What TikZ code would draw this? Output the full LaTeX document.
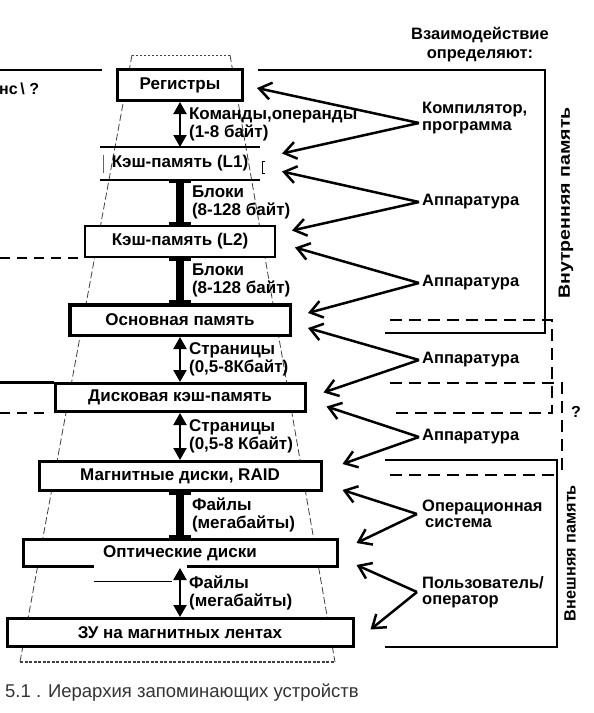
\documentclass[tikz,border=0pt]{standalone}
\usepackage{fontspec}
\setmainfont{Liberation Sans}
\usetikzlibrary{positioning,calc,arrows.meta}
\tikzset{
	box/.style={draw, fill=white, line width=3pt, inner sep=0pt, font=\bfseries\fontsize{17}{19}\selectfont},
	lnk/.style={anchor=west, inner sep=0pt, xshift=8pt, align=left, font=\bfseries\fontsize{17}{18}\selectfont},
	side/.style={anchor=west, inner sep=0pt, align=left, font=\bfseries\fontsize{16.5}{17}\selectfont},
	dbl/.style={line width=2.2pt, {Triangle[length=12pt,width=13pt]}-{Triangle[length=12pt,width=13pt]}},
	ibeam/.style={line width=8pt, {Bar[width=22pt,line width=3pt]}-{Bar[width=22pt,line width=3pt]}},
	ctl/.style={line width=2.5pt, -{Straight Barb[length=12pt,width=17pt]}},
	cone/.style={line width=0.8pt, black!75, dash pattern=on 7pt off 3pt},
	bracket/.style={line width=2.5pt},
	dbracket/.style={line width=2.5pt, dash pattern=on 12pt off 7pt},
	vlabel/.style={rotate=90, font=\bfseries\fontsize{16.3}{18}\selectfont}
}

\begin{document}
\begin{tikzpicture}[x=1pt, y=-1pt, node distance=45pt]
	\useasboundingbox (0,0) rectangle (594,713);
	% cone behind the levels
	\draw[cone] (132,55) -- (20,662);
	\draw[cone] (230,55) -- (335,662);
	\draw[cone, dash pattern=on 2pt off 2pt] (132,55) -- (230,55);
	\draw[cone, line width=1.2pt, dash pattern=on 3pt off 1.5pt] (20,662) -- (335,662);
	% levels
	\node[box, minimum width=125pt, minimum height=31pt] (reg) at (180,85) {Регистры};
	\node[box, draw=none, fill=none, outer sep=0pt, minimum width=160pt, minimum height=33pt, below=of reg] (l1) {Кэш-память (L1)};
	\node[box, line width=2pt, minimum width=190pt, minimum height=31pt, below=of l1] (l2) {Кэш-память (L2)};
	\node[box, line width=3.5pt, minimum width=220.5pt, minimum height=30.5pt, below=of l2] (main) {Основная память};
	\node[box, minimum width=250pt, minimum height=28pt, below=of main] (dcache) {Дисковая кэш-память};
	\node[box, minimum width=282pt, minimum height=29pt, below=47pt of dcache] (mdisk) {Магнитные диски, RAID};
	\node[box, minimum width=314pt, minimum height=27pt, below=46pt of mdisk] (opt) {Оптические диски};
	\node[box, minimum width=346pt, minimum height=28pt, below=49pt of opt] (tape) {ЗУ на магнитных лентах};
	% L1 is only ruled above and below
	\draw[line width=2.8pt] (l1.north west) -- (l1.north east);
	\draw[line width=2.8pt] (l1.south west) -- (l1.south east);
	\draw[line width=0.6pt, black!60] ($(l1.west)+(3,-9)$) -- ($(l1.west)+(3,9)$);
	\draw[line width=0.6pt] ($(l1.east)+(5,-2)$) -| ($(l1.east)+(2,10)$) -- ++(3,0);
	\draw[white, line width=3pt] ($(opt.south west)+(72,-1.5)$) -- ($(opt.south west)+(165,-1.5)$);
	\draw[line width=0.6pt] ($(opt.south west)+(72,13)$) -- ++(78,0);
	% transfers between levels
	\draw[dbl] (reg) -- (l1) node[midway, lnk] {Команды,операнды\\(1-8 байт)};
	\draw[ibeam] (l1) -- (l2) node[midway, lnk] {Блоки\\(8-128 байт)};
	\draw[ibeam] (l2) -- (main) node[midway, lnk] {Блоки\\(8-128 байт)};
	\draw[dbl] (main) -- (dcache) node[midway, lnk] {Страницы\\(0,5-8Кбайт)};
	\draw[dbl] (dcache) -- (mdisk) node[midway, lnk] {Страницы\\(0,5-8 Кбайт)};
	\draw[ibeam] (mdisk) -- (opt) node[midway, lnk] {Файлы\\(мегабайты)};
	\draw[dbl] (opt) -- (tape) node[midway, lnk] {Файлы\\(мегабайты)};
	% left margin
	\draw[line width=2.5pt] (0,70) -- (102,70);
	\draw[line width=2.5pt, dash pattern=on 10pt off 7pt] (0,258) -- (80,258);
	\draw[line width=3pt] (dcache.north west) -- ++(-60,0);
	\draw[line width=2.5pt, dash pattern=on 10pt off 7pt] (0,413) -- (50,413);
	\node[anchor=west, inner sep=0pt, font=\bfseries\fontsize{16}{18}\selectfont] (cut) at (-1,89) {нс\,\textbackslash\ ?};
	% who controls the transfers
	\node[align=center, font=\bfseries\fontsize{16.5}{19}\selectfont] (title) at (480,45) {Взаимодействие\\определяют:};
	\node[side] (comp) at (422,118) {Компилятор,\\программа};
	\node[side] (hw1) at (422,202) {Аппаратура};
	\node[side] (hw2) at (422,283) {Аппаратура};
	\node[side] (hw3) at (422,360) {Аппаратура};
	\node[side] (hw4) at (422,437) {Аппаратура};
	\node[side, font=\bfseries\fontsize{16.5}{16}\selectfont] (os) at (422,514) {Операционная\\\hspace*{3pt}система};
	\node[side, font=\bfseries\fontsize{16.5}{16}\selectfont] (user) at (422,592) {Пользователь/\\оператор};
	\draw[ctl] ($(comp.west)+(-3,5)$) -- ($(reg.east)+(13,3)$);
	\draw[ctl] ($(comp.west)+(-3,5)$) -- ($(l1.east)+(22,-10)$);
	\draw[ctl] ($(hw1.west)+(-3,0)$) -- ($(l1.east)+(22,8)$);
	\draw[ctl] ($(hw1.west)+(-3,0)$) -- ($(l2.east)+(16,-11)$);
	\draw[ctl] ($(hw2.west)+(-3,0)$) -- ($(l2.east)+(19,6)$);
	\draw[ctl] ($(hw2.west)+(-3,0)$) -- ($(main.east)+(16,-7)$);
	\draw[ctl] ($(hw3.west)+(-3,0)$) -- ($(main.east)+(16,8)$);
	\draw[ctl] ($(hw3.west)+(-3,0)$) -- ($(dcache.east)+(17,-5)$);
	\draw[ctl] ($(hw4.west)+(-3,0)$) -- ($(dcache.east)+(20,9)$);
	\draw[ctl] ($(hw4.west)+(-3,0)$) -- ($(mdisk.east)+(20,-12)$);
	\draw[ctl] ($(os.west)+(-5,0)$) -- ($(mdisk.east)+(20,14)$);
	\draw[ctl] ($(os.west)+(-5,0)$) -- ($(opt.east)+(18,-10)$);
	\draw[ctl] ($(user.west)+(-5,0)$) -- ($(opt.east)+(18,12)$);
	\draw[ctl] ($(user.west)+(-5,0)$) -- ($(tape.east)+(16,-3)$);
	% memory groups
	\draw[bracket] (258,70) -- (545,70) -- (545,333) -- (385,333);
	\draw[dbracket] (390,320) -- (552,320) -- (552,413) -- (390,413);
	\draw[dbracket] (390,383) -- (562,383) -- (562,472);
	\draw[dbracket] (390,475) -- (557,475);
	\draw[bracket] (385,460) -- (557,460) -- (557,647) -- (385,647);
	\node[vlabel] (inner) at (566,203) {\scalebox{1.2}[1]{Внутренняя память}};
	\node[vlabel] (outer) at (570,553) {Внешняя память};
	\node[font=\bfseries\fontsize{16}{18}\selectfont] (ask) at (576,412) {?};
	% caption
	\node[anchor=base west, inner sep=0pt, text=black!80, font=\fontsize{18.5}{20}\selectfont] (cap) at (5,697) {5.1 . Иерархия запоминающих устройств};
\end{tikzpicture}
\end{document}
